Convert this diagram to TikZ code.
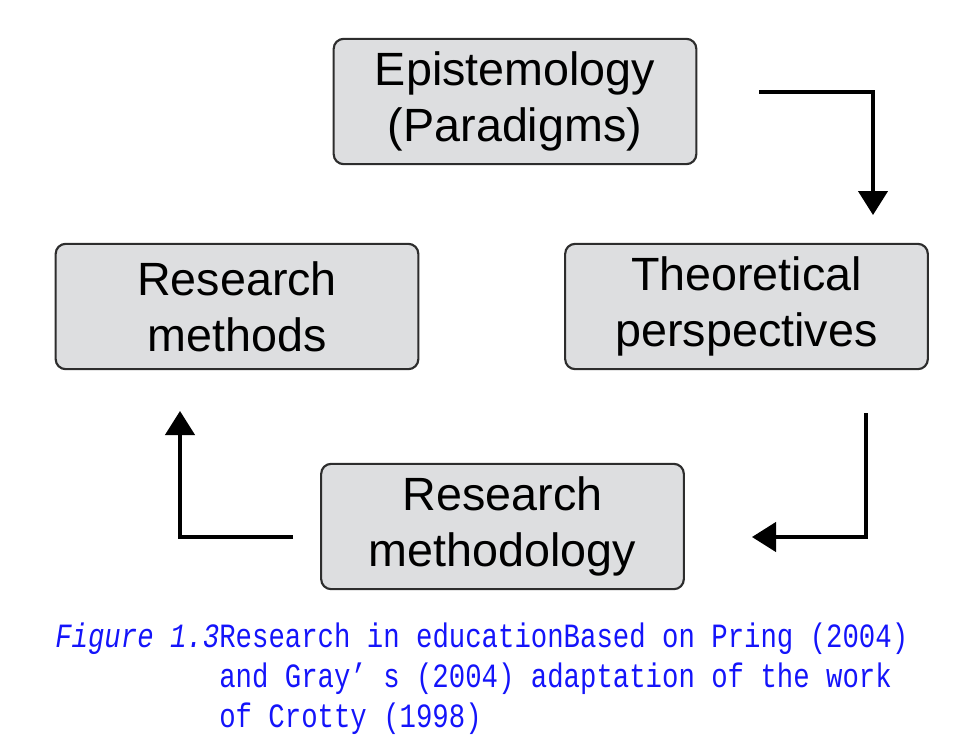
\documentclass[tikz,border=0pt]{standalone}
\usepackage{fontspec}
\setmainfont{Liberation Sans}
\newfontfamily\capfont[FakeStretch=0.804]{Liberation Mono}
\usetikzlibrary{arrows.meta}
\definecolor{boxgray}{RGB}{221,222,224}
\definecolor{boxline}{RGB}{45,45,45}
\definecolor{capblue}{RGB}{20,20,250}
\tikzset{
  stage/.style={draw=boxline, line width=1.6pt, fill=boxgray, rounded corners=7.5pt,
    minimum width=272pt, minimum height=94pt, inner sep=0pt, align=center,
    text=black, font=\fontsize{35}{42}\selectfont},
  flow/.style={line width=2.5pt, draw=black,
    -{Triangle[length=18pt,width=22pt]}},
  caption/.style={anchor=base west, inner sep=0pt, text=capblue,
    font=\capfont\fontsize{25.5}{30}\selectfont}
}
\begin{document}
\begin{tikzpicture}[x=0.75pt,y=-0.75pt]
  \useasboundingbox (0,0) rectangle (980,735);

  % the four stages of the cycle
  \node[stage] (epi)  at (515,101.5)  {Epistemology\\(Paradigms)};
  \node[stage] (theo) at (746.5,306.5){Theoretical\\perspectives};
  \node[stage] (mlgy) at (502.5,526.5){Research\\methodology};
  \node[stage] (meth) at (237,306.5)  {Research\\methods};

  % free ends of the elbow connectors
  \coordinate (a1s) at (759,92);
  \coordinate (a1e) at (873,215);
  \coordinate (a2s) at (866,413);
  \coordinate (a2e) at (752,537);
  \coordinate (a3s) at (293,537);
  \coordinate (a3e) at (180,411);

  \draw[flow] (a1s) -| (a1e);
  \draw[flow] (a2s) |- (a2e);
  \draw[flow] (a3s) -| (a3e);

  % caption
  \node[caption] (cap1) at (55,647) {\itshape Figure 1.3\upshape Research in educationBased on Pring (2004)};
  \node[caption] (cap2) at (219,687) {and Gray’\ s (2004) adaptation of the work};
  \node[caption] (cap3) at (219,727) {of Crotty (1998)};
\end{tikzpicture}
\end{document}
